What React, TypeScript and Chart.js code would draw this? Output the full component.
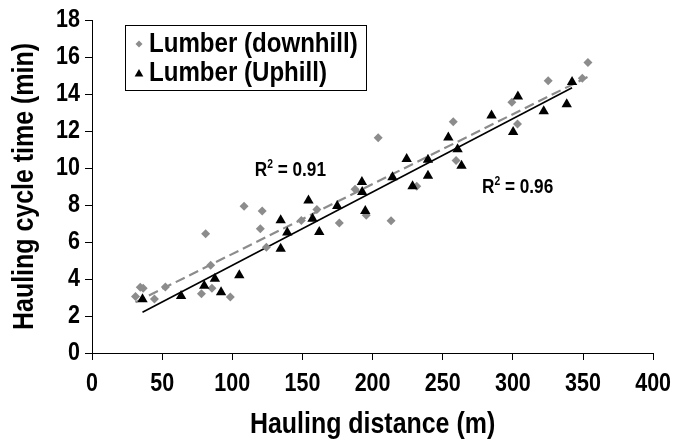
import React, { useEffect, useRef } from 'react';
import { Chart, registerables } from 'chart.js';

Chart.register(...registerables);

// Hauling trials, downhill lumber: distance (m) and cycle time (min)
const downhillDistance = [31, 34.4, 36.5, 44.5, 52.3, 78, 81, 84.6, 85.5, 98.6, 108.4, 120, 121.3, 124.3, 149.2, 160.3, 176.3, 187.5, 195.5, 204, 213.2, 231.5, 257.5, 259.5, 299.3, 303.3, 325.2, 349.5, 353.5];
const downhillTime = [3.05, 3.56, 3.5, 2.92, 3.57, 3.2, 6.45, 4.75, 3.5, 3.03, 7.93, 6.72, 7.68, 5.72, 7.16, 7.76, 7.03, 8.85, 7.45, 11.63, 7.15, 9.02, 12.5, 10.4, 13.55, 12.38, 14.72, 14.85, 15.7];

// Hauling trials, uphill lumber
const uphillDistance = [36, 63.5, 80, 87.6, 92, 105, 134.5, 134.5, 139.2, 154.3, 157.2, 162, 174.8, 192.4, 192.6, 194.8, 214.2, 224.3, 228.5, 239.5, 239.5, 254, 260.6, 263.4, 284.8, 300.2, 303.6, 322, 338.4, 342.2];
const uphillTime = [2.9, 3.08, 3.63, 4.02, 3.28, 4.2, 7.17, 5.64, 6.52, 8.24, 7.26, 6.54, 7.95, 9.24, 8.7, 7.67, 9.5, 10.48, 9.02, 10.45, 9.58, 11.65, 11.02, 10.12, 12.84, 11.94, 13.87, 13.07, 13.45, 14.65];

const seriesLabels = ['Lumber (downhill)', 'Lumber (Uphill)'];
const rSquaredText = ['0.91', '0.96'];
// where each R² note sits, in axis units (left edge, baseline)
const rSquaredAnchorX = [116, 278];
const rSquaredAnchorY = [9.55, 8.65];

const xMin = 0;
const xMax = 400;
const xStep = 50;
const yMin = 0;
const yMax = 18;
const yStep = 2;

const FONT = '"Liberation Sans", Arial, Helvetica, sans-serif';
const GREY = '#8c8c8c';
// all lettering is set slightly condensed
const TEXT_WIDTH_SCALE = 0.86;

function toPoints(xs: number[], ys: number[]) {
  return xs.map((x, i) => ({ x, y: ys[i] }));
}

// ordinary least-squares trend, drawn across the observed distance range
function trendLine(xs: number[], ys: number[]) {
  const n = xs.length;
  const mx = xs.reduce((a, b) => a + b, 0) / n;
  const my = ys.reduce((a, b) => a + b, 0) / n;
  let sxy = 0;
  let sxx = 0;
  for (let i = 0; i < n; i++) {
    sxy += (xs[i] - mx) * (ys[i] - my);
    sxx += (xs[i] - mx) * (xs[i] - mx);
  }
  const slope = sxy / sxx;
  const intercept = my - slope * mx;
  const lo = Math.min(...xs);
  const hi = Math.max(...xs);
  return [
    { x: lo, y: intercept + slope * lo },
    { x: hi, y: intercept + slope * hi },
  ];
}

function diamond(ctx: CanvasRenderingContext2D, x: number, y: number, r: number) {
  ctx.beginPath();
  ctx.moveTo(x, y - r);
  ctx.lineTo(x + r, y);
  ctx.lineTo(x, y + r);
  ctx.lineTo(x - r, y);
  ctx.closePath();
  ctx.fill();
}

function triangle(ctx: CanvasRenderingContext2D, x: number, y: number, r: number) {
  ctx.beginPath();
  ctx.moveTo(x, y - r);
  ctx.lineTo(x + r * 0.866, y + r * 0.5);
  ctx.lineTo(x - r * 0.866, y + r * 0.5);
  ctx.closePath();
  ctx.fill();
}

// squeeze every fillText along the text direction, keeping its anchor
const condensedTextPlugin = {
  id: 'condensedText',
  beforeDraw(chart: any) {
    const ctx: any = chart.ctx;
    if (ctx.__condensed) return;
    ctx.__condensed = true;
    const original = ctx.fillText.bind(ctx);
    ctx.fillText = (text: string, x: number, y: number, maxWidth?: number) => {
      ctx.save();
      ctx.translate(x, y);
      ctx.scale(TEXT_WIDTH_SCALE, 1);
      if (maxWidth === undefined) original(text, 0, 0);
      else original(text, 0, 0, maxWidth / TEXT_WIDTH_SCALE);
      ctx.restore();
    };
  },
};

const notesPlugin = {
  id: 'notes',
  afterDraw(chart: any) {
    const ctx: CanvasRenderingContext2D = chart.ctx;
    const area = chart.chartArea;
    const sx = chart.scales.x;
    const sy = chart.scales.y;
    ctx.save();

    // R² notes
    rSquaredText.forEach((txt, i) => {
      let px = sx.getPixelForValue(rSquaredAnchorX[i]);
      const py = sy.getPixelForValue(rSquaredAnchorY[i]);
      ctx.fillStyle = '#000';
      ctx.textBaseline = 'alphabetic';
      ctx.textAlign = 'left';
      ctx.font = `bold 20px ${FONT}`;
      ctx.fillText('R', px, py);
      px += ctx.measureText('R').width * TEXT_WIDTH_SCALE;
      ctx.font = `bold 12px ${FONT}`;
      ctx.fillText('2', px, py - 8);
      px += ctx.measureText('2').width * TEXT_WIDTH_SCALE;
      ctx.font = `bold 20px ${FONT}`;
      ctx.fillText(' = ' + txt, px, py);
    });

    // legend box
    const bx = area.left + 33;
    const by = area.top + 5;
    const bw = 241;
    const bh = 65;
    ctx.fillStyle = '#fff';
    ctx.fillRect(bx, by, bw, bh);
    ctx.strokeStyle = '#000';
    ctx.lineWidth = 1;
    ctx.strokeRect(bx + 0.5, by + 0.5, bw, bh);

    const rowY = [by + 19, by + 48];
    ctx.fillStyle = GREY;
    diamond(ctx, bx + 14, rowY[0], 3.5);
    ctx.fillStyle = '#000';
    triangle(ctx, bx + 14, rowY[1] + 1, 5);

    ctx.fillStyle = '#000';
    ctx.font = `bold 28px ${FONT}`;
    ctx.textBaseline = 'middle';
    ctx.textAlign = 'left';
    seriesLabels.forEach((label, i) => {
      ctx.fillText(label, bx + 24, rowY[i]);
    });
    ctx.restore();
  },
};

export default function App() {
  const canvasRef = useRef<HTMLCanvasElement | null>(null);

  useEffect(() => {
    if (!canvasRef.current) return;
    const tickFont = { family: FONT, size: 25, weight: 'bold' as const };
    const titleFont = { family: FONT, size: 29, weight: 'bold' as const };

    const chart = new Chart(canvasRef.current, {
      type: 'scatter',
      data: {
        datasets: [
          {
            label: seriesLabels[1],
            data: toPoints(uphillDistance, uphillTime),
            pointStyle: 'triangle',
            pointRadius: 6,
            backgroundColor: '#000',
            borderColor: '#000',
            borderWidth: 0,
            order: 0,
          },
          {
            label: seriesLabels[0],
            data: toPoints(downhillDistance, downhillTime),
            pointStyle: 'rectRot',
            pointRadius: 4.5,
            backgroundColor: GREY,
            borderColor: GREY,
            borderWidth: 0,
            order: 1,
          },
          {
            label: 'uphill trend',
            data: trendLine(uphillDistance, uphillTime),
            showLine: true,
            pointRadius: 0,
            borderColor: '#000',
            borderWidth: 1.6,
            order: 2,
          },
          {
            label: 'downhill trend',
            data: trendLine(downhillDistance, downhillTime),
            showLine: true,
            pointRadius: 0,
            borderColor: GREY,
            borderWidth: 2.2,
            borderDash: [10, 5],
            order: 3,
          },
        ],
      },
      options: {
        animation: false,
        responsive: true,
        maintainAspectRatio: false,
        layout: { padding: { top: 19, right: 22, left: 0, bottom: 0 } },
        plugins: {
          legend: { display: false },
          tooltip: { enabled: false },
        },
        scales: {
          x: {
            type: 'linear',
            min: xMin,
            max: xMax,
            ticks: {
              stepSize: xStep,
              color: '#000',
              font: tickFont,
              padding: 9,
              maxRotation: 0,
              autoSkip: false,
            },
            grid: { drawOnChartArea: false, drawTicks: true, tickLength: 7, color: '#000' },
            border: { display: true, color: '#000', width: 1 },
            title: {
              display: true,
              text: 'Hauling distance (m)',
              color: '#000',
              font: titleFont,
              padding: { top: 0, bottom: 0 },
            },
            afterFit: (s: any) => {
              s.height = 89;
            },
          },
          y: {
            type: 'linear',
            min: yMin,
            max: yMax,
            ticks: {
              stepSize: yStep,
              color: '#000',
              font: tickFont,
              padding: 5,
            },
            grid: { drawOnChartArea: false, drawTicks: true, tickLength: 7, color: '#000' },
            border: { display: true, color: '#000', width: 1 },
            title: {
              display: true,
              text: 'Hauling cycle time (min)',
              color: '#000',
              font: titleFont,
              padding: { top: 8, bottom: 0 },
            },
            afterFit: (s: any) => {
              s.width = 92;
            },
          },
        },
      },
      plugins: [condensedTextPlugin, notesPlugin],
    });
    return () => chart.destroy();
  }, []);

  return (
    <div style={{ position: 'absolute', left: 0, top: 0, width: 683, height: 442, background: '#fff' }}>
      <canvas ref={canvasRef} />
    </div>
  );
}
